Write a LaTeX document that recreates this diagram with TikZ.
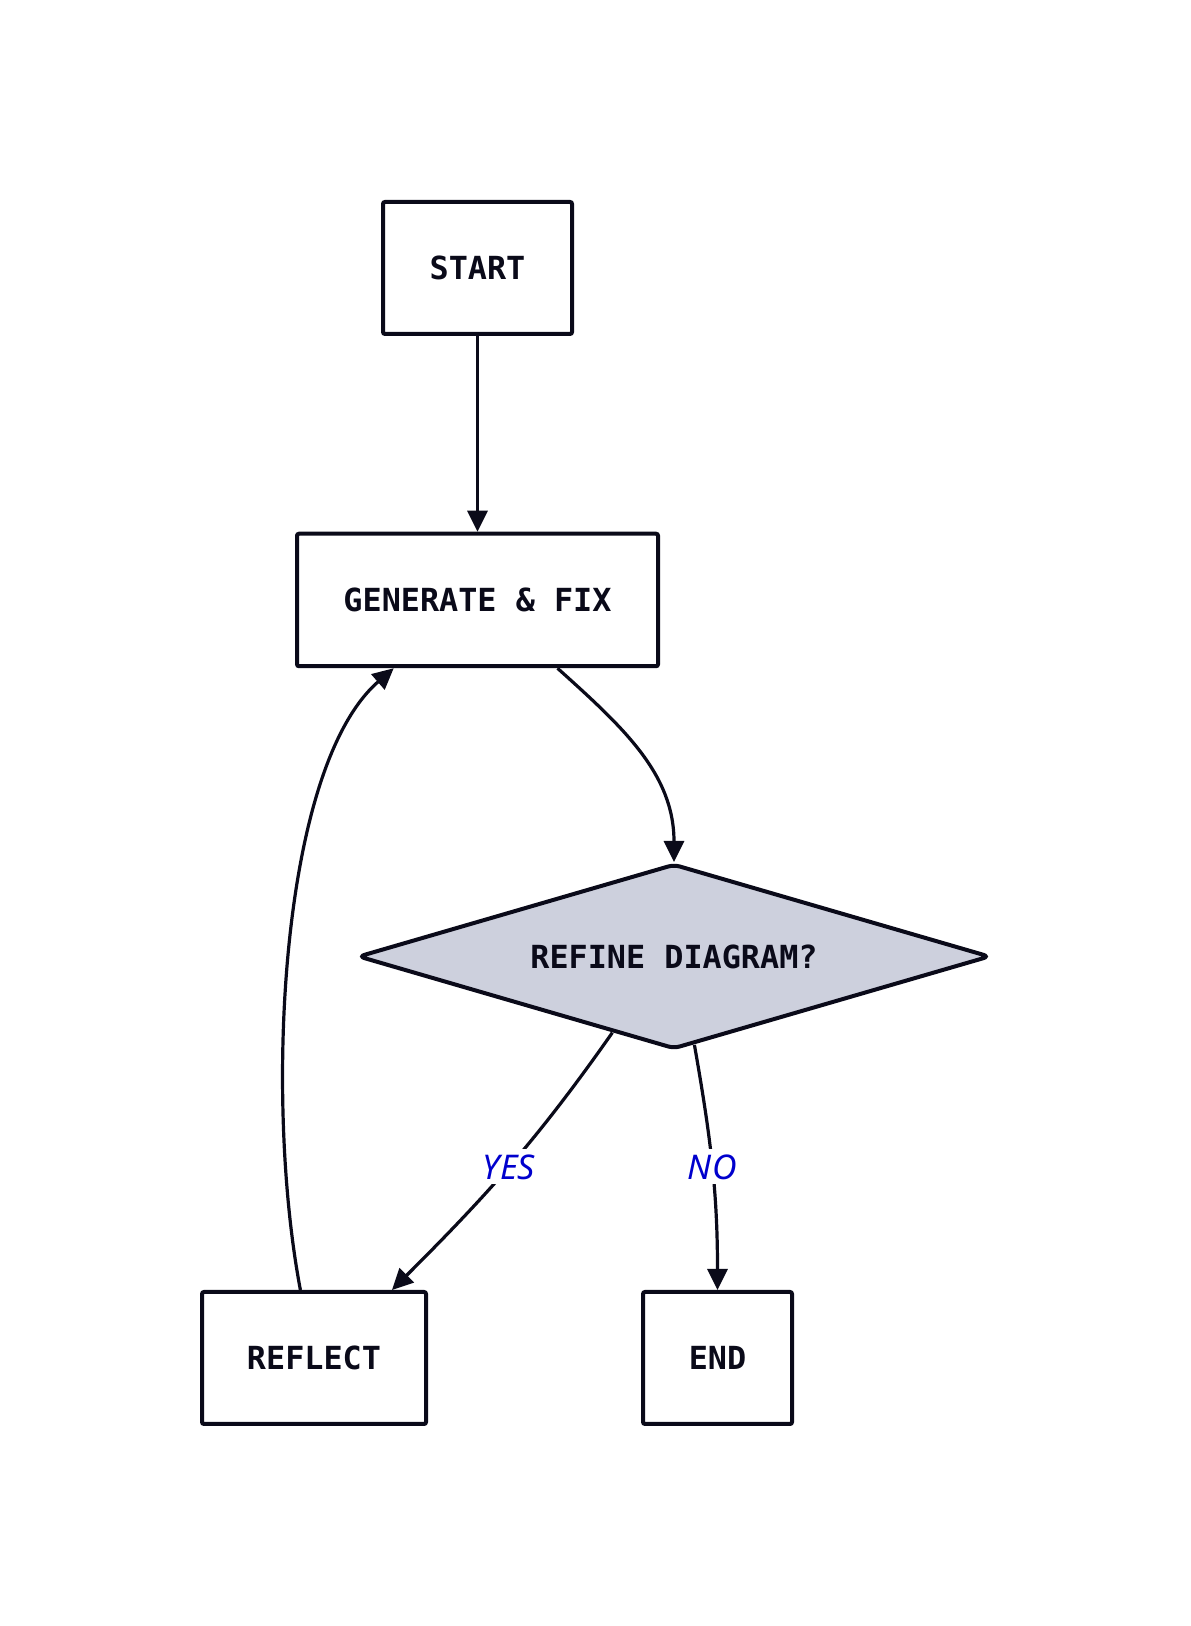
\documentclass[tikz,border=0pt]{standalone}
\usepackage{fontspec}
\setmonofont{DejaVu Sans Mono}
\newfontfamily\answerfont{Noto Sans}
\usetikzlibrary{arrows.meta,shapes.geometric,calc}

\definecolor{inkc}{RGB}{10,10,25}
\definecolor{decfill}{RGB}{205,208,221}
\definecolor{anscol}{RGB}{0,0,205}

\tikzset{
  box/.style={draw=inkc,line width=2pt,rounded corners=1pt,inner sep=0pt,
    text=inkc,font=\ttfamily\bfseries\fontsize{15.9}{18}\selectfont},
  decision/.style={box,shape=diamond,aspect=3.42,fill=decfill,rounded corners=3pt},
  flow/.style={draw=inkc,line width=1.6pt,-{Triangle[length=10.5pt,width=10pt]}},
  answer/.style={fill=white,inner sep=2.5pt,text=anscol,
    font=\answerfont\itshape\fontsize{17}{18}\selectfont}
}

\begin{document}
\begin{tikzpicture}[x=0.5pt,y=0.5pt]
    \useasboundingbox (0,0) rectangle (1190,1626);

    \coordinate (s) at (477.5,1358);
    \coordinate (g) at (477.5,1026);
    \coordinate (r) at (674,669.5);
    \coordinate (f) at (314,268);
    \coordinate (e) at (717.5,268);

    \node (start) [box,minimum width=94.5pt,minimum height=66pt] at (s) {START};
    \node (gen) [box,minimum width=180.5pt,minimum height=66.25pt] at (g) {GENERATE \& FIX};
    \node (refine) [decision,minimum width=316pt,minimum height=92.5pt] at (r) {REFINE DIAGRAM?};
    \node (reflect) [box,minimum width=112pt,minimum height=66pt] at (f) {REFLECT};
    \node (stop) [box,minimum width=74.5pt,minimum height=66pt] at (e) {END};

    \draw[flow] (start) -- (gen);
    \draw[flow] ([xshift=40pt]gen.south) to[out=-42,in=90] (refine.north);
    \draw[flow] (refine.231) to[out=-125,in=45] node[answer] {YES} ([xshift=39pt]reflect.north);
    \draw[flow] (refine.-77) to[out=-80,in=90] node[answer] {NO} (stop.north);
    \draw[flow] ([xshift=-6.8pt]reflect.north) .. controls (264,528) and (280,859) .. ([xshift=-41.9pt]gen.south);

  \end{tikzpicture}
\end{document}
